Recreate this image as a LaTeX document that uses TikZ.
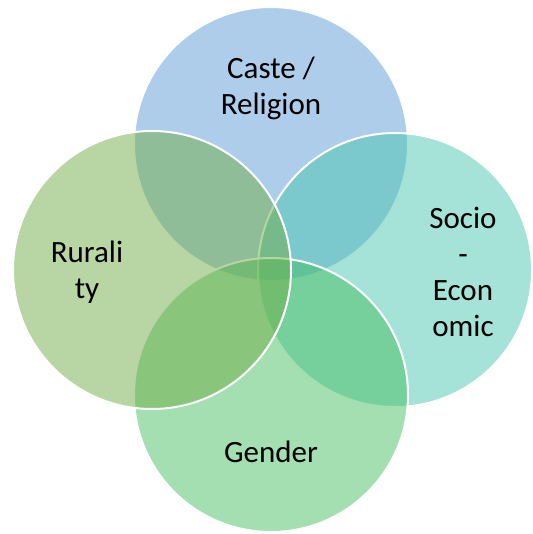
\documentclass[tikz,border=0pt]{standalone}
\usepackage{fontspec}
\setmainfont{Carlito}
\definecolor{casteblue}{HTML}{5B9BD5}
\definecolor{socioteal}{HTML}{4BC5AF}
\definecolor{genderleaf}{HTML}{47BF63}
\definecolor{ruralgreen}{HTML}{70AD47}

\begin{document}
\begin{tikzpicture}[x=1pt,y=-1pt]
    \tikzset{venn circle/.style=
        {circle, draw=white, line width=2pt, fill opacity=0.5,
            minimum size=274pt, inner sep=0pt},venn label/.style={align=center,font=\fontsize{31}{36}\selectfont,text=black}}
    \useasboundingbox (0,0) rectangle (532,534);
    % circles, back to front
    \node[venn circle,fill=casteblue] (caste) at (271,144) {};
    \node[venn circle,fill=socioteal] (socio) at (395,270) {};
    \node[venn circle,fill=genderleaf] (gender) at (271,395) {};
    \node[venn circle,fill=ruralgreen,minimum size=278pt] (rural) at (152,270) {};
    % labels
    \node[venn label] (castetext) at (271,88) {Caste /\\Religion};
    \node[venn label] (sociotext) at (463,272) {Socio\\-\\Econ\\omic};
    \node[venn label] (gendertext) at (271,452) {Gender};
    \node[venn label] (ruraltext) at (87,272) {Rurali\\ty};
\end{tikzpicture}
\end{document}
